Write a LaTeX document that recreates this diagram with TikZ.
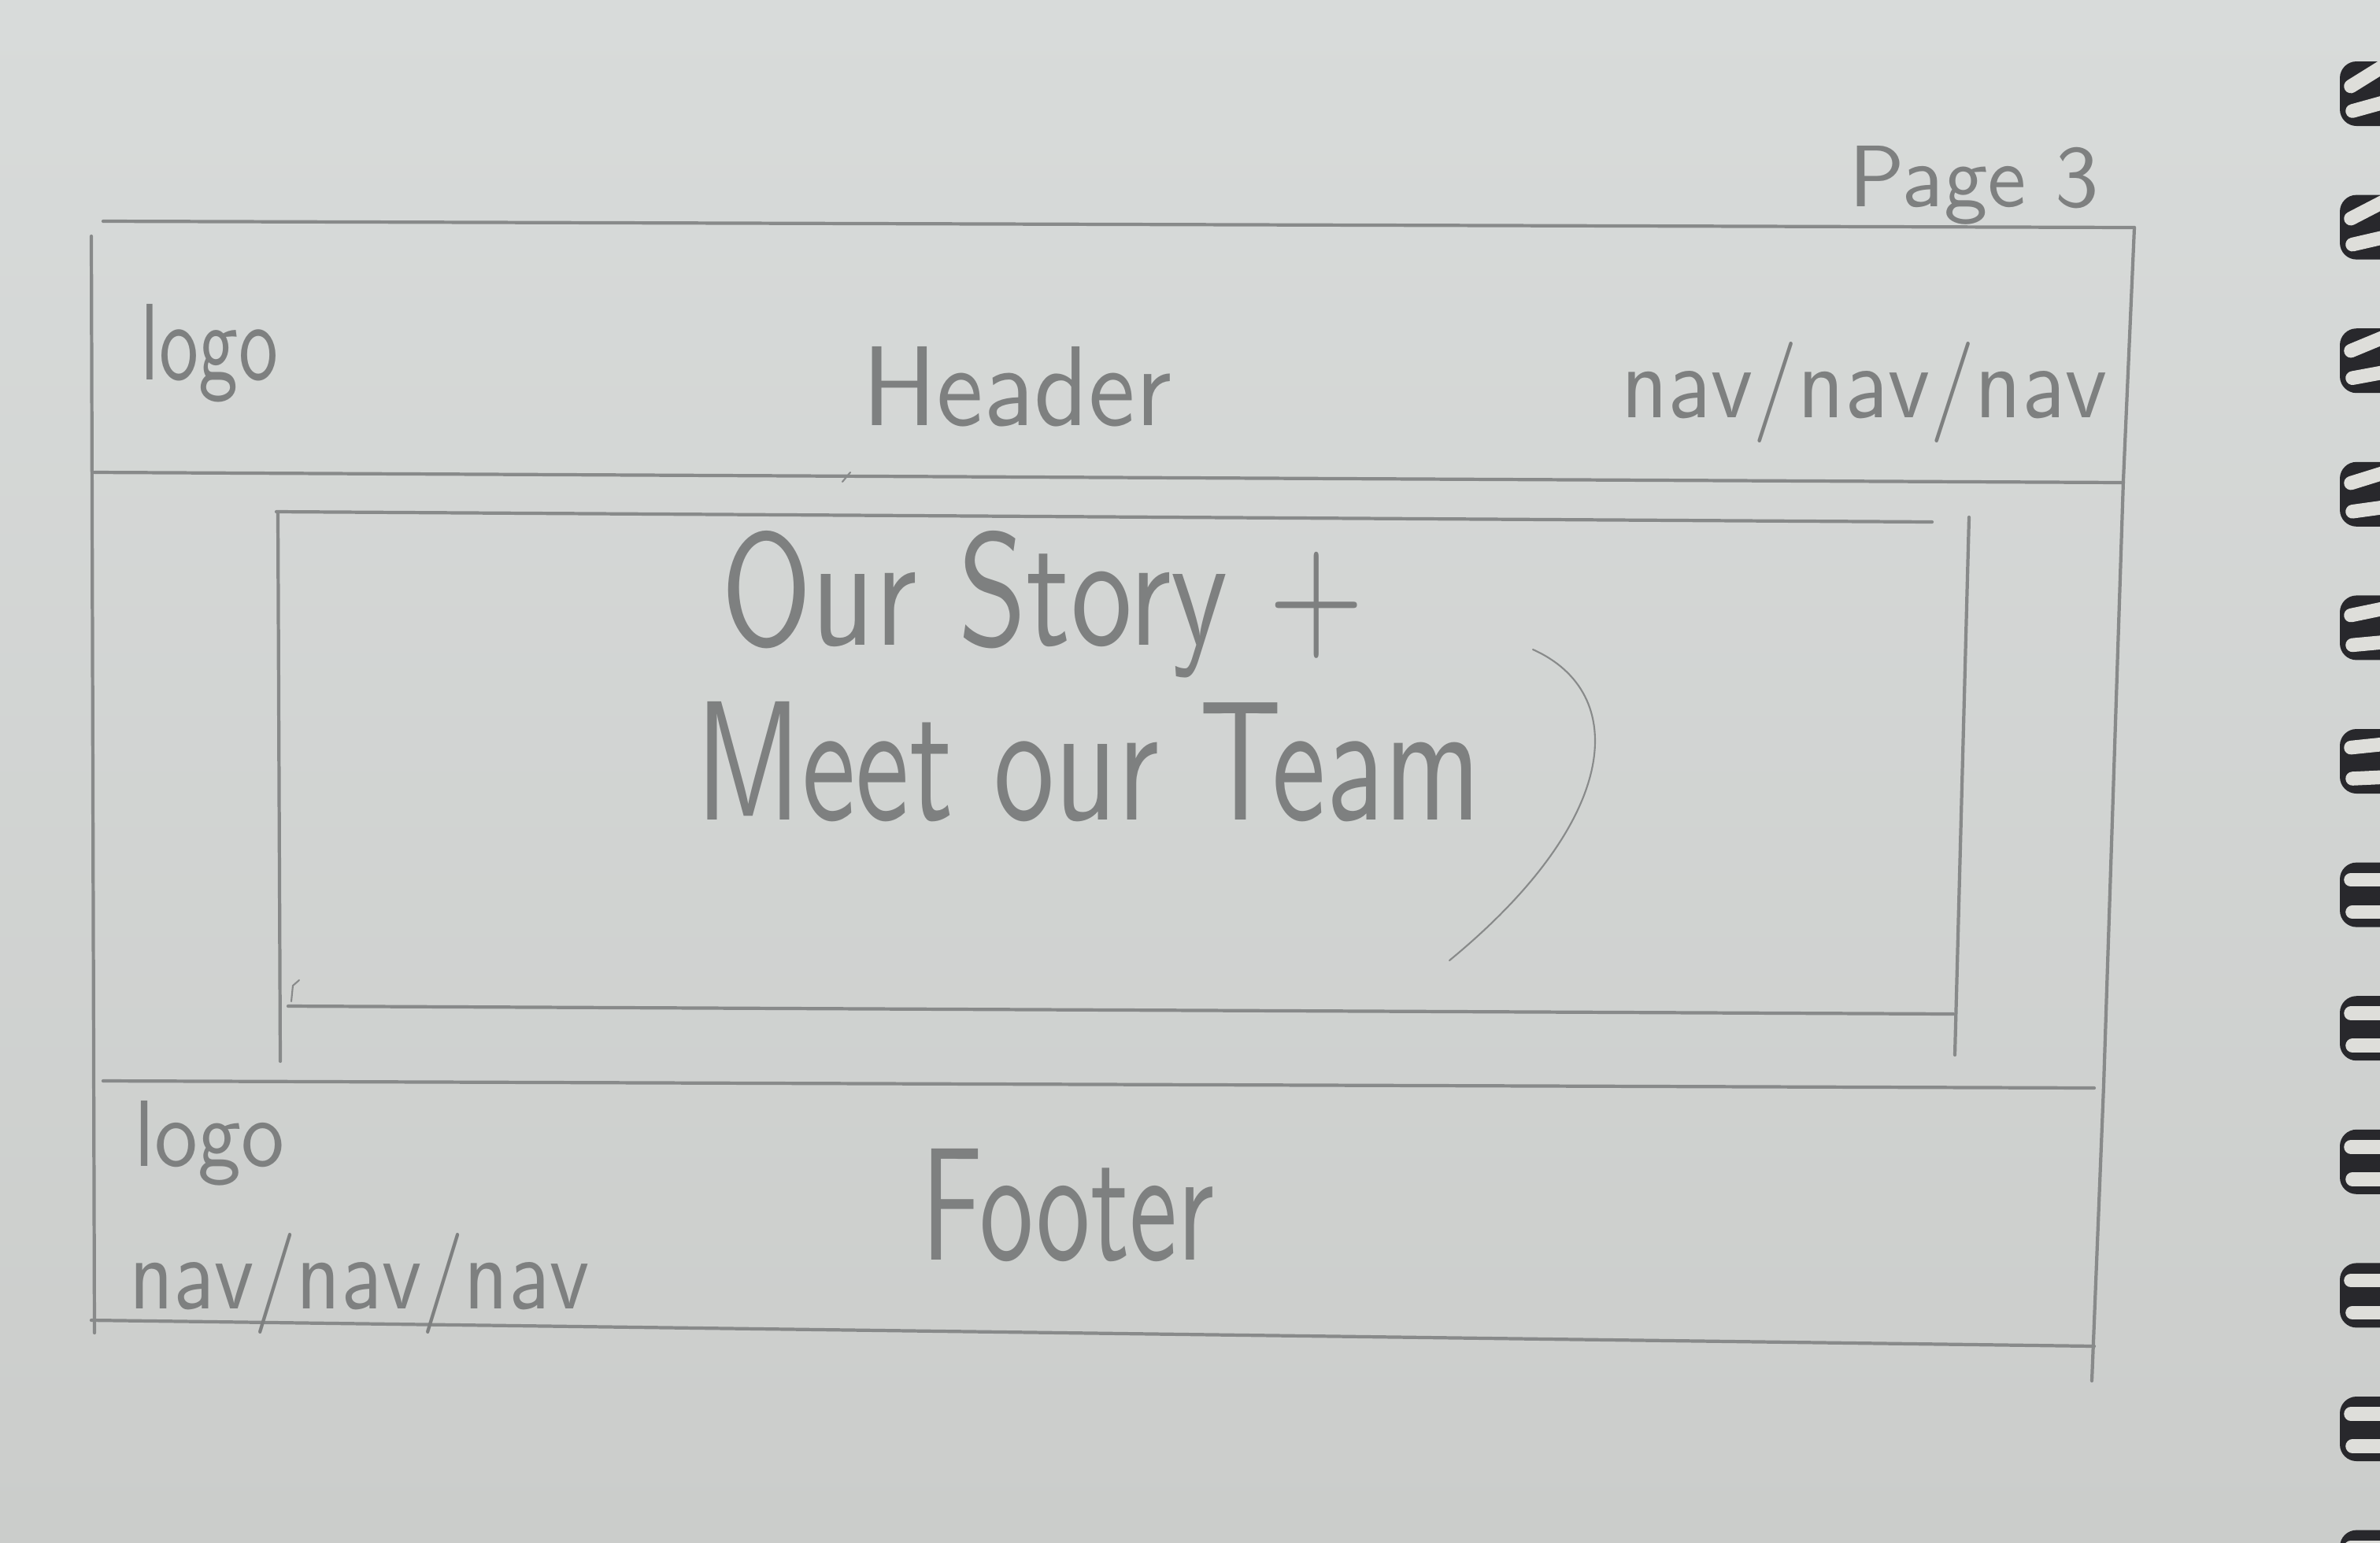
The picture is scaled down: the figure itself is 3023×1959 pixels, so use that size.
\documentclass[tikz,border=0pt]{standalone}
\usepackage{graphicx}
\definecolor{pencilgrey}{RGB}{136,138,138}
\definecolor{textgrey}{RGB}{126,128,128}
\definecolor{papertop}{RGB}{216,219,218}
\definecolor{paperbottom}{RGB}{203,205,203}
\definecolor{ringdark}{RGB}{40,40,44}
\definecolor{ringlight}{RGB}{222,222,218}
% scaled handwriting: width, height above baseline, text
\newcommand{\handtext}[3]{\resizebox{#1}{#2}{#3}}
\begin{document}
\begin{tikzpicture}[x=0.01cm,y=-0.01cm,
  pencil/.style={draw=pencilgrey, line width=1.2pt, line cap=round, line join=round},
  faint/.style={draw=pencilgrey, line width=0.6pt, line cap=round},
  wire/.style={draw=ringlight, line width=5pt, line cap=round},
  hand/.style={inner sep=0pt, outer sep=0pt, anchor=base west, text=textgrey, font=\sffamily}]
\useasboundingbox (0,0) rectangle (3023,1959);
% paper
\shade[top color=papertop, bottom color=paperbottom] (0,0) rectangle (3023,1959);

% spiral binding: dark loops with two light wire highlights
\foreach \i in {0,...,11}{
  \pgfmathsetmacro{\ry}{119+169.6*\i}
  \pgfmathsetmacro{\s}{max(0,24-4*\i)}
  \fill[ringdark, rounded corners=6pt] (2972,\ry-41) rectangle (3080,\ry+41);
  \draw[wire] (2986,\ry-19+0.4*\s) -- (3040,\ry-19-\s);
  \draw[wire] (2988,\ry+22) -- (3040,\ry+22-0.6*\s);
}

% outer frame corners
\coordinate (otl) at (131,281);
\coordinate (otr) at (2711,289);
\coordinate (olt) at (116,300);
\coordinate (olb) at (120,1693);
\coordinate (orm1) at (2697,610);
\coordinate (orm2) at (2672,1379);
\coordinate (orb) at (2657,1754);
\coordinate (hdl) at (120,600);
\coordinate (hdr) at (2697,613);
\coordinate (ftl) at (131,1373);
\coordinate (ftr) at (2660,1382);
\coordinate (fbl) at (116,1677);
\coordinate (fbr) at (2660,1710);

\draw[pencil] (otl) -- (otr);
\draw[pencil] (olt) -- (olb);
\draw[pencil] (otr) -- (orm1) -- (orm2) -- (orb);
\draw[pencil] (hdl) -- (hdr);
\draw[pencil] (ftl) -- (ftr);
\draw[pencil] (fbl) -- (fbr);

% inner content box
\coordinate (itl) at (351,650);
\coordinate (itr) at (2454,663);
\coordinate (ilt) at (353,652);
\coordinate (ilb) at (356,1348);
\coordinate (irt) at (2501,657);
\coordinate (irb) at (2483,1340);
\coordinate (ibl) at (366,1278);
\coordinate (ibr) at (2481,1288);
\draw[pencil] (itl) -- (itr);
\draw[pencil] (ilt) -- (ilb);
\draw[pencil] (irt) -- (irb);
\draw[pencil] (ibl) -- (ibr);
\draw[faint] (380,1245) -- (372,1252) -- (370,1272);
\draw[faint] (1070,612) -- (1080,600);

% curved stroke beside the title
\coordinate (arcA) at (1947,825);
\coordinate (arcB) at (1841,1220);
\draw[faint] (arcA) .. controls (2070,880) and (2060,1040) .. (arcB);

% labels
\node[hand] (page) at (2348,262) {\handtext{3.18cm}{0.77cm}{Page 3}};
\node[hand] (hlogo) at (179,482) {\handtext{1.74cm}{0.96cm}{logo}};
\node[hand] (header) at (1095,540) {\handtext{3.93cm}{1.0cm}{Header}};
\node[hand] (hnav) at (2059,530) {\handtext{6.17cm}{0.96cm}{nav/nav/nav}};
\node[hand] (story) at (916,819) {\handtext{8.16cm}{1.45cm}{Our Story +}};
\node[hand] (team) at (883,1041) {\handtext{9.97cm}{1.5cm}{Meet our Team}};
\node[hand] (flogo) at (170,1481) {\handtext{1.91cm}{0.83cm}{logo}};
\node[hand] (footer) at (1170,1600) {\handtext{3.72cm}{1.41cm}{Footer}};
\node[hand] (fnav) at (164,1662) {\handtext{5.84cm}{0.96cm}{nav/nav/nav}};
\end{tikzpicture}
\end{document}
